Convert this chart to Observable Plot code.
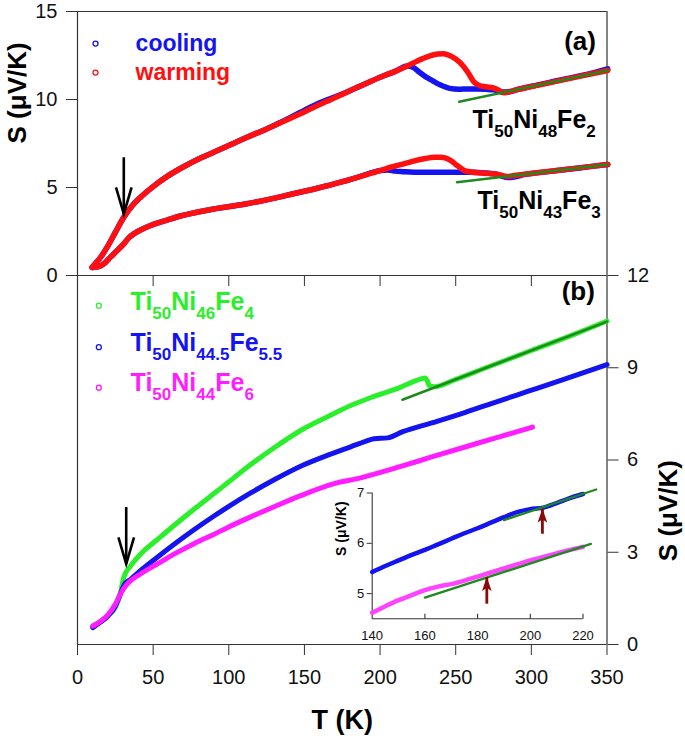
<!DOCTYPE html>
<html><head><meta charset="utf-8">
<script src="https://cdn.jsdelivr.net/npm/d3@7"></script>
<script src="https://cdn.jsdelivr.net/npm/@observablehq/plot@0.6"></script>
<style>
body{margin:0;background:#fff}
#chart{position:relative;width:685px;height:738px}
#chart svg{position:absolute;left:0;top:0}
</style>
</head><body><div id="chart"></div>
<script>
// ---------- ticks ----------
const xTicksMain = [0, 50, 100, 150, 200, 250, 300, 350];
const xTicksA = [50, 100, 150, 200, 250, 300];
const yTicksA = [0, 5, 10, 15];
const yTicksB = [0, 3, 6, 9, 12];
const xTicksInset = [140, 160, 180, 200, 220];
const xTicksInsetInner = [160, 180, 200, 220];
const yTicksInset = [5, 6, 7];

// ---------- panel (a): Ti50Ni48Fe2 ----------
const fe2WarmT = [9.7,12,15,19.6,25,30.6,36,41.7,50,59.3,68,81.4,90,103,112,125,134,147,156,165,174,180,190,200.5,210,218,225,232,238,242,246,250,254,258,262,266,270,275,279,282,290,300,320,340,350.5];
const fe2WarmS = [0.47,0.7,1.0,1.61,2.45,3.31,3.95,4.45,5.05,5.63,6.08,6.68,7.0,7.5,7.85,8.33,8.68,9.18,9.55,9.9,10.25,10.5,10.88,11.28,11.6,11.9,12.2,12.45,12.58,12.6,12.5,12.3,12.0,11.55,11.0,10.78,10.72,10.66,10.5,10.38,10.55,10.73,11.1,11.46,11.65];
const fe2CoolT = [9.7,12,15,19.6,25,30.6,36,41.7,50,59.3,68,81.4,90,103,112,125,134,147,156,165,174,180,190,200.5,210,218,222,226,230,235,240,246,252,258,264,270,275,281,286,290,300,320,340,350.5];
const fe2CoolS = [0.47,0.7,1.0,1.61,2.45,3.31,3.95,4.45,5.05,5.63,6.08,6.68,7.0,7.5,7.85,8.33,8.7,9.26,9.65,9.98,10.28,10.5,10.88,11.28,11.6,11.9,11.82,11.55,11.3,11.05,10.82,10.63,10.58,10.6,10.6,10.58,10.55,10.42,10.45,10.55,10.75,11.12,11.5,11.74];
// ---------- panel (a): Ti50Ni43Fe3 ----------
const fe3WarmT = [9.7,14,18,21.8,26,30.6,34,37.3,42,48.3,59.3,68,81.4,90,103,112,125,134,147,156,165,174,185,200.5,207,215,222,230,236,240,243,246.8,251,255.6,260,266.6,272,277.7,284.3,290,300,320,340,350.5];
const fe3WarmS = [0.45,0.5,0.7,1.04,1.4,1.8,2.15,2.37,2.6,2.84,3.15,3.38,3.64,3.78,3.95,4.08,4.3,4.47,4.73,4.9,5.1,5.3,5.58,5.97,6.15,6.33,6.5,6.65,6.72,6.72,6.68,6.53,6.25,5.97,5.88,5.83,5.79,5.74,5.63,5.7,5.8,6.0,6.2,6.31];
const fe3CoolT = [9.7,14,18,21.8,26,30.6,34,37.3,42,48.3,59.3,68,81.4,90,103,112,125,134,147,156,165,174,185,200.5,205,210,215,222.5,230,240,250,262,270,277.7,284,288.6,295,300,320,340,350.5];
const fe3CoolS = [0.45,0.5,0.7,1.04,1.4,1.8,2.15,2.37,2.6,2.84,3.15,3.38,3.64,3.78,3.95,4.08,4.3,4.47,4.73,4.9,5.1,5.3,5.58,5.97,6.0,5.93,5.9,5.87,5.87,5.87,5.87,5.87,5.82,5.74,5.57,5.6,5.73,5.79,5.99,6.2,6.31];
// linear fits (a)
const fe2FitT = [252.3, 350.5];
const fe2FitS = [9.87, 11.65];
const fe3FitT = [250.8, 350.5];
const fe3FitS = [5.30, 6.31];

// ---------- panel (b) ----------
const fe4T = [10.1,15,20,25,28,30.6,35,40,43.9,50,54.9,65,77,90,99,114.5,130,147.5,165,180.6,195,213.7,222,227,229.5,231,232.5,236,250,270,300,330,350];
const fe4S = [0.6,0.75,0.94,1.2,1.6,2.19,2.55,2.85,3.05,3.3,3.5,3.92,4.4,4.9,5.25,5.85,6.4,6.96,7.4,7.77,8.05,8.37,8.55,8.64,8.67,8.6,8.42,8.38,8.62,9.0,9.56,10.12,10.52];
const fe55T = [10.1,15,20,25,28,31,35.1,42,54.9,65,77,90,99,114.5,130,147.5,165,180.6,190,196,205,215,233.6,253.4,275,297.5,320,350];
const fe55S = [0.55,0.72,0.92,1.25,1.6,1.95,2.12,2.42,2.92,3.3,3.73,4.17,4.46,4.93,5.36,5.8,6.15,6.43,6.6,6.69,6.72,6.92,7.2,7.5,7.86,8.23,8.6,9.1];
const fe6T = [10.1,15,19.6,25.1,29,32.9,37,41.7,54.9,65,77,90,99,114.5,130,147.5,169.6,187.2,213.7,233.6,260,280,300.8];
const fe6S = [0.6,0.75,0.94,1.32,1.7,1.97,2.15,2.30,2.68,2.97,3.28,3.58,3.8,4.15,4.48,4.84,5.23,5.42,5.79,6.09,6.48,6.77,7.07];
const fe4FitT = [214.8, 350];
const fe4FitS = [7.96, 10.5];

// ---------- inset ----------
const insBlueT = [140,145,150,155,160,165,170,175,180,185,190,195,200,205,210,215,220];
const insBlueS = [5.43,5.55,5.66,5.77,5.87,5.98,6.09,6.2,6.3,6.41,6.52,6.62,6.68,6.71,6.8,6.9,6.98];
const insMagT = [140,145,150,155,160,165,170,175,180,185,190,195,200,205,210,215,220];
const insMagS = [4.62,4.75,4.87,4.97,5.07,5.14,5.19,5.26,5.34,5.42,5.5,5.58,5.66,5.73,5.8,5.87,5.93];
const insBlueFitT = [190, 225];
const insBlueFitS = [6.46, 7.07];
const insMagFitT = [160, 223];
const insMagFitS = [4.92, 5.99];
const insArrowT = [204.6, 183.5];
const insArrowBaseS = [6.19, 4.80];
const insArrowTipS = [6.69, 5.33];

// ---------- annotations ----------
const arrowAT = [30.6], arrowABaseS = [6.72], arrowATipS = [3.5];
const arrowBT = [32.2], arrowBBaseS = [4.47], arrowBTipS = [2.62];
const legendALabels = ["cooling", "warming"];
const legendAMarkT = [11.9, 11.9], legendAMarkS = [13.18, 11.53];
const legendATextT = [38.4, 38.4], legendATextS = [12.73, 11.08];
const chemALabels = ["Ti_{50}Ni_{48}Fe_{2}", "Ti_{50}Ni_{43}Fe_{3}"];
const chemAT = [261.1, 264.4], chemAS = [8.39, 3.79];
const legendBLabels = ["Ti_{50}Ni_{46}Fe_{4}", "Ti_{50}Ni_{44.5}Fe_{5.5}", "Ti_{50}Ni_{44}Fe_{6}"];
const legendBMarkT = [14.1, 14.1, 14.1], legendBMarkS = [11.02, 9.67, 8.35];
const legendBTextT = [35.1, 35.1, 35.1], legendBTextS = [10.88, 9.56, 8.24];
const panelALabel = ["(a)"], panelAT = [342.7], panelAS = [12.81];
const panelBLabel = ["(b)"], panelBT = [342], panelBS = [11.2];
const yTitle = "S (\u03bcV/K)";
const xTitle = "T (K)";

// ---------- styles ----------
const RED = "#ff1010", BLUE = "#1414f0", GREEN = "#2bef2b", MAG = "#ff1eff", DKGREEN = "#1d8a1d", MAROON = "#8b0a0a";
const AX = "#333", TXT = "#111";
const FONT = "'Liberation Sans', Arial, Helvetica, sans-serif";
const W = 685, H = 738;
const base = {width: W, height: H, style: {background: "transparent", fontFamily: FONT, overflow: "visible"}};

const chevronDown = {draw(ctx) { ctx.moveTo(-7.8, -26.5); ctx.lineTo(0, 0); ctx.lineTo(7.8, -26.5); }};
const headUp = {draw(ctx) { ctx.moveTo(0, 0); ctx.lineTo(-4.8, 14); ctx.lineTo(0, 11); ctx.lineTo(4.8, 14); ctx.closePath(); }};
const tickUp = {draw(ctx) { ctx.moveTo(0, 0); ctx.lineTo(0, -5); }};

const line = (T, S, o) => Plot.line(T, {x: T, y: S, curve: "monotone-x", strokeLinecap: "round", strokeLinejoin: "round", ...o});
const chem = (labels, T, S, fill) => labels.map((t, i) => Plot.text([t], {x: [T[i]], y: [S[i]], text: [t], fill, fontSize: 25, fontWeight: "bold", textAnchor: "start", lineAnchor: "bottom"}));

// ---------- panel (a) ----------
const plotA = Plot.plot({
  ...base,
  marginTop: 11, marginBottom: H - 275, marginLeft: 77, marginRight: W - 606.5,
  x: {domain: [0, 350]},
  y: {domain: [0, 15]},
  marks: [
    Plot.ruleY([0, 15], {stroke: AX, strokeWidth: 1.2}),
    Plot.ruleX([0, 350], {stroke: AX, strokeWidth: 1.2}),
    Plot.axisY({ticks: yTicksA, tickSize: 11, tickPadding: 9, fontSize: 20, label: null, stroke: AX, fill: TXT}),
    Plot.axisX({ticks: xTicksA, tickSize: 11, tickFormat: () => "", label: null, stroke: AX}),
    line(fe2CoolT, fe2CoolS, {stroke: BLUE, strokeWidth: 5.5}),
    line(fe3CoolT, fe3CoolS, {stroke: BLUE, strokeWidth: 5.5}),
    line(fe2WarmT, fe2WarmS, {stroke: RED, strokeWidth: 5.5}),
    line(fe3WarmT, fe3WarmS, {stroke: RED, strokeWidth: 5.5}),
    line(fe2FitT, fe2FitS, {stroke: DKGREEN, strokeWidth: 2.5, curve: "linear"}),
    line(fe3FitT, fe3FitS, {stroke: DKGREEN, strokeWidth: 2.5, curve: "linear"}),
    Plot.link(arrowAT, {x1: arrowAT, x2: arrowAT, y1: arrowABaseS, y2: arrowATipS, stroke: "#000", strokeWidth: 2.6}),
    Plot.dot(arrowAT, {x: arrowAT, y: arrowATipS, symbol: chevronDown, fill: "none", stroke: "#000", strokeWidth: 2.6, strokeLinejoin: "miter"}),
    Plot.dot(legendAMarkT, {x: legendAMarkT, y: legendAMarkS, r: 2.5, fill: "none", stroke: [BLUE, RED], strokeWidth: 1.3}),
    legendALabels.map((t, i) => Plot.text([t], {x: [legendATextT[i]], y: [legendATextS[i]], text: [t], fill: [BLUE, RED][i], fontSize: 23, fontWeight: "bold", textAnchor: "start", lineAnchor: "bottom"})),
    chem(chemALabels, chemAT, chemAS, "#000"),
    Plot.text(panelALabel, {x: panelAT, y: panelAS, text: panelALabel, fontSize: 26, fontWeight: "bold", textAnchor: "end", lineAnchor: "bottom", fill: "#000"}),
    Plot.text([yTitle], {frameAnchor: "left", dx: -59.5, rotate: -90, text: [yTitle], fontSize: 26, fontWeight: "bold", fill: "#000"})
  ]
});

// ---------- panel (b) ----------
const plotB = Plot.plot({
  ...base,
  marginTop: 275, marginBottom: H - 644, marginLeft: 77, marginRight: W - 606.5,
  x: {domain: [0, 350]},
  y: {domain: [0, 12]},
  marks: [
    Plot.ruleX([0, 350], {stroke: AX, strokeWidth: 1.2}),
    Plot.ruleY([0], {stroke: AX, strokeWidth: 1.2}),
    Plot.axisY({anchor: "right", ticks: yTicksB, tickSize: 11, tickPadding: 9, fontSize: 20, label: null, stroke: AX, fill: TXT}),
    Plot.axisX({ticks: xTicksMain, tickSize: 11, tickPadding: 14, fontSize: 20, label: null, stroke: AX, fill: TXT}),
    line(fe4T, fe4S, {stroke: GREEN, strokeWidth: 5}),
    line(fe55T, fe55S, {stroke: BLUE, strokeWidth: 5}),
    line(fe6T, fe6S, {stroke: MAG, strokeWidth: 5}),
    line(fe4FitT, fe4FitS, {stroke: DKGREEN, strokeWidth: 2.5, curve: "linear"}),
    Plot.link(arrowBT, {x1: arrowBT, x2: arrowBT, y1: arrowBBaseS, y2: arrowBTipS, stroke: "#000", strokeWidth: 2.6}),
    Plot.dot(arrowBT, {x: arrowBT, y: arrowBTipS, symbol: chevronDown, fill: "none", stroke: "#000", strokeWidth: 2.6, strokeLinejoin: "miter"}),
    Plot.dot(legendBMarkT, {x: legendBMarkT, y: legendBMarkS, r: 2.5, fill: "none", stroke: [GREEN, BLUE, MAG], strokeWidth: 1.3}),
    legendBLabels.map((t, i) => chem([t], [legendBTextT[i]], [legendBTextS[i]], [GREEN, BLUE, MAG][i])),
    Plot.text(panelBLabel, {x: panelBT, y: panelBS, text: panelBLabel, fontSize: 26, fontWeight: "bold", textAnchor: "end", lineAnchor: "bottom", fill: "#000"}),
    Plot.text([yTitle], {frameAnchor: "right", dx: 61.5, rotate: -90, text: [yTitle], fontSize: 26, fontWeight: "bold", fill: "#000"}),
    Plot.text([xTitle], {frameAnchor: "bottom", dy: 84, lineAnchor: "bottom", text: [xTitle], fontSize: 27, fontWeight: "bold", fill: "#000"})
  ]
});

// ---------- inset ----------
const plotI = Plot.plot({
  ...base,
  marginTop: 492.5, marginBottom: H - 618.3, marginLeft: 371.7, marginRight: W - 582.5,
  x: {domain: [140, 220]},
  y: {domain: [4.5, 7]},
  marks: [
    Plot.ruleX([140], {stroke: AX, strokeWidth: 1.1}),
    Plot.ruleY([4.5], {stroke: AX, strokeWidth: 1.1}),
    Plot.axisY({ticks: yTicksInset, tickFormat: d => String(d), tickSize: 5, tickPadding: 3, fontSize: 13, label: null, stroke: AX, fill: TXT}),
    Plot.axisX({ticks: xTicksInset, tickFormat: d => String(d), tickSize: 0, tickPadding: 12, fontSize: 13, label: null, fill: TXT}),
    Plot.dot(xTicksInsetInner, {x: xTicksInsetInner, frameAnchor: "bottom", symbol: tickUp, stroke: AX, fill: "none", strokeWidth: 1.1}),
    line(insBlueT, insBlueS, {stroke: BLUE, strokeWidth: 4.5}),
    line(insMagT, insMagS, {stroke: "#ff44ff", strokeWidth: 4.5}),
    line(insBlueFitT, insBlueFitS, {stroke: DKGREEN, strokeWidth: 2.3, curve: "linear"}),
    line(insMagFitT, insMagFitS, {stroke: DKGREEN, strokeWidth: 2.3, curve: "linear"}),
    Plot.link(insArrowT, {x1: insArrowT, x2: insArrowT, y1: insArrowBaseS, y2: insArrowTipS, stroke: MAROON, strokeWidth: 2.8}),
    Plot.dot(insArrowT, {x: insArrowT, y: insArrowTipS, symbol: headUp, fill: MAROON, stroke: "none"}),
    Plot.text([yTitle], {frameAnchor: "left", dx: -31, rotate: -90, text: [yTitle], fontSize: 14, fontWeight: "bold", fill: "#000"})
  ]
});

// ---------- subscripts (Ti_{50} -> Ti with subscript 50) ----------
function subscriptify(svg) {
  svg.querySelectorAll("text").forEach(t => {
    const s = t.textContent;
    if (!s.includes("_{")) return;
    while (t.firstChild) t.removeChild(t.firstChild);
    const parts = s.split(/_\{([^}]*)\}/);
    let down = false;
    parts.forEach((p, i) => {
      if (!p) return;
      const ts = document.createElementNS("http://www.w3.org/2000/svg", "tspan");
      ts.textContent = p;
      if (i % 2 === 1) {
        ts.setAttribute("font-size", "17");
        if (!down) { ts.setAttribute("dy", "9"); down = true; }
      } else if (down) {
        ts.setAttribute("dy", "-9"); down = false;
      }
      t.appendChild(ts);
    });
  });
}
[plotA, plotB].forEach(subscriptify);

const chart = document.getElementById("chart");
chart.appendChild(plotB);
chart.appendChild(plotI);
chart.appendChild(plotA);
</script>
</body></html>
